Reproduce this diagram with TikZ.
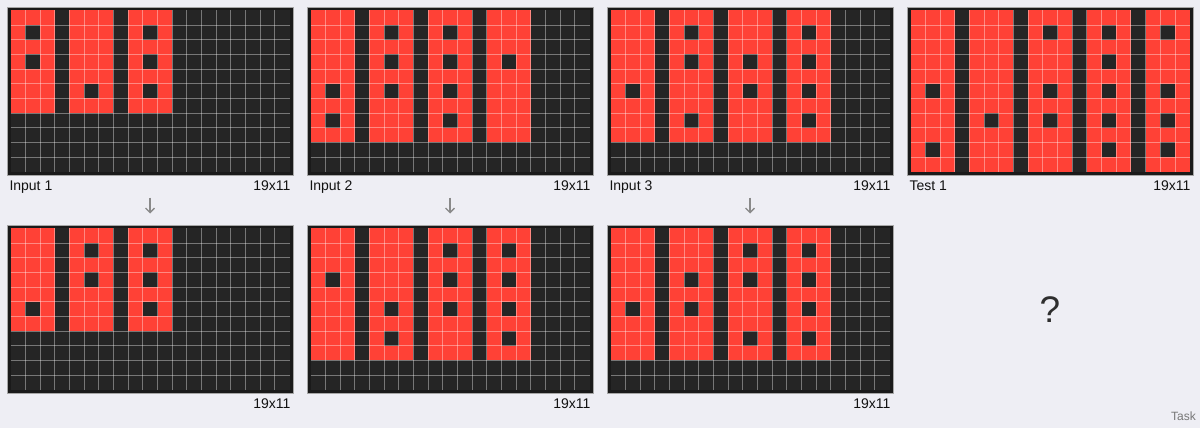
\documentclass[tikz,border=0pt]{standalone}
\usepackage{fontspec}
\setmainfont{Liberation Sans}
\usetikzlibrary{arrows.meta}
\definecolor{bgc}{HTML}{EEEEF4}
\definecolor{arcred}{HTML}{FF4136}
\definecolor{cellblk}{HTML}{252525}
\definecolor{framec}{HTML}{1A1A1A}
\definecolor{arrowc}{HTML}{8A8A8A}
\definecolor{taskc}{HTML}{777777}
\tikzset{
  lbl/.style={inner sep=0pt, font=\fontsize{14}{16}\selectfont, text=black!93},
  flowarrow/.style={draw=arrowc, line width=1.3pt, -{Straight Barb[length=4.5pt,width=9pt,line width=1.3pt]}},
  gridline/.style={white, opacity=0.38, line width=0.9pt},
}
\newcommand{\arcpanel}[6]{% #1 ox, #2 oy, #3 red col starts, #4 red rows, #5 holes, #6 name
  \begin{scope}[shift={(#1,#2)}]
    \fill[framec, draw=gray!70] (0,0) rectangle (285.4,168.2);
    \coordinate (#6-top) at (142.7,0);
    \coordinate (#6-bot) at (142.7,168.2);
    \begin{scope}[shift={(3.4,3.3)}]
      \fill[cellblk] (0,0) rectangle (278.92,161.48);
      \foreach \c in {#3} \fill[arcred] (\c*14.68,0) rectangle ++(44.04,#4*14.68);
      \foreach \c/\r in {#5} \fill[cellblk] (\c*14.68,\r*14.68) rectangle ++(14.68,14.68);
      \foreach \i in {1,...,18} \draw[gridline] (\i*14.68,0) -- (\i*14.68,161.48);
      \foreach \j in {1,...,10} \draw[gridline] (0,\j*14.68) -- (278.92,\j*14.68);
    \end{scope}
  \end{scope}
}
\begin{document}
\begin{tikzpicture}[x=1pt,y=-1pt]
\fill[bgc] (0,0) rectangle (1200,428);
\useasboundingbox (0,0) rectangle (1200,428);
% top row
\arcpanel{7.3}{7}{0,4,8}{7}{1/1,1/3,5/5,9/1,9/3,9/5}{in1}
\arcpanel{307.3}{7}{0,4,8,12}{9}{1/5,1/7,5/1,5/3,5/5,9/1,9/3,9/5,9/7,13/3}{in2}
\arcpanel{607.3}{7}{0,4,8,12}{9}{1/5,5/1,5/3,5/7,9/3,9/5,13/1,13/3,13/5,13/7}{in3}
\arcpanel{907.3}{7}{0,4,8,12,16}{11}{1/5,1/9,5/7,9/1,9/5,9/7,13/1,13/3,13/5,13/7,13/9,17/1,17/5,17/7,17/9}{test1}
% bottom row
\arcpanel{7.3}{225}{0,4,8}{7}{1/5,5/1,5/3,9/1,9/3,9/5}{out1}
\arcpanel{307.3}{225}{0,4,8,12}{9}{1/3,5/5,5/7,9/1,9/3,9/5,13/1,13/3,13/5,13/7}{out2}
\arcpanel{607.3}{225}{0,4,8,12}{9}{1/5,5/3,5/5,9/1,9/3,9/7,13/1,13/3,13/5,13/7}{out3}
% labels
\node[lbl, anchor=base west] (lin1) at (9.3,190.5) {Input 1};
\node[lbl, anchor=base east] (sin1) at (290.7,190.5) {19x11};
\node[lbl, anchor=base west] (lin2) at (309.3,190.5) {Input 2};
\node[lbl, anchor=base east] (sin2) at (590.7,190.5) {19x11};
\node[lbl, anchor=base west] (lin3) at (609.3,190.5) {Input 3};
\node[lbl, anchor=base east] (sin3) at (890.7,190.5) {19x11};
\node[lbl, anchor=base west] (ltest) at (909.3,190.5) {Test 1};
\node[lbl, anchor=base east] (stest) at (1190.7,190.5) {19x11};
\node[lbl, anchor=base east] (sout1) at (290.7,408.8) {19x11};
\node[lbl, anchor=base east] (sout2) at (590.7,408.8) {19x11};
\node[lbl, anchor=base east] (sout3) at (890.7,408.8) {19x11};
% arrows
\coordinate (a1s) at (150,197.5); \coordinate (a1e) at (150,213.5);
\coordinate (a2s) at (450,197.5); \coordinate (a2e) at (450,213.5);
\coordinate (a3s) at (750,197.5); \coordinate (a3e) at (750,213.5);
\draw[flowarrow] (a1s) -- (a1e);
\draw[flowarrow] (a2s) -- (a2e);
\draw[flowarrow] (a3s) -- (a3e);
% question mark and task
\node[inner sep=0pt, font=\fontsize{37}{40}\selectfont, text=black!82] (qm) at (1050,310) {?};
\node[inner sep=0pt, anchor=base east, font=\fontsize{12}{14}\selectfont, text=taskc] (task) at (1196,420.5) {Task};
\end{tikzpicture}
\end{document}
